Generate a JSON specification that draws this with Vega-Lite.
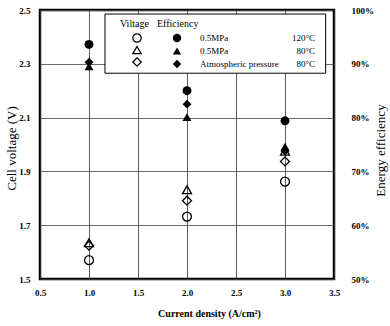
{
  "$schema": "https://vega.github.io/schema/vega-lite/v6.json",
  "width": 294,
  "height": 269,
  "autosize": "none",
  "padding": {"left": 40, "top": 10, "right": 56, "bottom": 47},
  "config": {
    "view": {"stroke": "black", "strokeWidth": 2.5},
    "font": "Liberation Serif",
    "axis": {
      "domain": false,
      "ticks": false,
      "labelFont": "Liberation Serif",
      "labelFontSize": 9,
      "labelFontWeight": "bold",
      "labelColor": "black",
      "labelFlush": false,
      "labelOverlap": false,
      "titleFont": "Liberation Serif",
      "titleColor": "black",
      "gridColor": "#444444",
      "gridWidth": 0.8
    },
    "legend": {
      "labelFont": "Liberation Serif",
      "labelColor": "black",
      "labelFontSize": 9,
      "titleFont": "Liberation Serif",
      "titleColor": "black",
      "titleFontSize": 10,
      "titleFontWeight": "normal",
      "padding": 0
    }
  },
  "data": {
    "values": [
      {"j": 1, "cond": "a", "voltage": 1.57, "eff": 93.6},
      {"j": 2, "cond": "a", "voltage": 1.732, "eff": 85.0},
      {"j": 3, "cond": "a", "voltage": 1.862, "eff": 79.4},
      {"j": 1, "cond": "b", "voltage": 1.635, "eff": 89.5},
      {"j": 2, "cond": "b", "voltage": 1.832, "eff": 80.1},
      {"j": 3, "cond": "b", "voltage": 1.975, "eff": 74.6},
      {"j": 1, "cond": "c", "voltage": 1.624, "eff": 90.3},
      {"j": 2, "cond": "c", "voltage": 1.791, "eff": 82.5},
      {"j": 3, "cond": "c", "voltage": 1.937, "eff": 73.8}
    ]
  },
  "layer": [
    {
      "data": {"values": [{}]},
      "mark": {"type": "rect", "fill": "white", "stroke": "black", "strokeWidth": 1},
      "encoding": {
        "x": {"datum": 1.163, "type": "quantitative", "scale": {"domain": [0.5, 3.5], "nice": false, "zero": false},
          "axis": {"values": [0.5, 1, 1.5, 2, 2.5, 3, 3.5], "format": ".1f", "grid": true, "gridColor": "#333333", "labelPadding": 9,
            "title": "Current density (A/cm²)", "titleFontSize": 10, "titleFontWeight": "bold", "titleX": 169, "titleY": 34, "titleBaseline": "middle"}},
        "x2": {"datum": 3.415},
        "y": {"datum": 2.485, "type": "quantitative", "scale": {"domain": [1.5, 2.5], "nice": false, "zero": false}, "axis": null},
        "y2": {"datum": 2.265}
      }
    },
    {
      "mark": {"type": "point", "filled": false, "stroke": "black", "strokeWidth": 1.3, "size": 80, "opacity": 1},
      "encoding": {
        "x": {"field": "j", "type": "quantitative"},
        "y": {"field": "voltage", "type": "quantitative", "scale": {"domain": [1.5, 2.5], "nice": false, "zero": false},
          "axis": {"orient": "left", "values": [1.5, 1.7, 1.9, 2.1, 2.3, 2.5], "format": ".1f", "grid": true, "labelPadding": 10,
            "title": "Cell voltage (V)", "titleFontSize": 13, "titleFontWeight": "normal", "titleAngle": 270, "titleX": -29, "titleY": 138, "titleBaseline": "middle"}},
        "shape": {"field": "cond", "type": "nominal", "scale": {"domain": ["a", "b", "c"], "range": ["circle", "triangle-up", "diamond"]},
          "legend": {"orient": "none", "legendX": 80, "legendY": 9, "title": "Viltage", "titlePadding": 4, "labelExpr": "''",
            "symbolSize": 70, "symbolStrokeColor": "black", "symbolFillColor": "transparent", "symbolStrokeWidth": 1.2, "symbolOffset": 12, "rowPadding": -2}}
      }
    },
    {
      "mark": {"type": "point", "filled": true, "fill": "black", "size": 80, "opacity": 1},
      "encoding": {
        "x": {"field": "j", "type": "quantitative"},
        "y": {"field": "eff", "type": "quantitative", "scale": {"domain": [50, 100], "nice": false, "zero": false},
          "axis": {"orient": "right", "values": [50, 60, 70, 80, 90, 100], "labelExpr": "datum.value + '%'", "grid": false, "labelPadding": 17,
            "title": "Energy efficiency", "titleFontSize": 13, "titleFontWeight": "normal", "titleAngle": 270, "titleX": 46, "titleY": 140, "titleBaseline": "middle"}},
        "shape": {"field": "cond", "type": "nominal", "scale": {"domain": ["a", "b", "c"], "range": ["circle", "triangle-up", "diamond"]},
          "legend": {"orient": "none", "legendX": 117, "legendY": 9, "title": "Efficiency", "titlePadding": 4,
            "labelExpr": "datum.value == 'a' ? '0.5MPa' : datum.value == 'b' ? '0.5MPa' : 'Atmospheric pressure'",
            "symbolSize": 70, "symbolFillColor": "black", "symbolStrokeColor": "black", "symbolOffset": 15, "labelOffset": 18, "rowPadding": -2}}
      }
    },
    {
      "mark": {"type": "point", "opacity": 0},
      "encoding": {
        "x": {"field": "j", "type": "quantitative"},
        "y": {"field": "eff", "type": "quantitative", "scale": {"domain": [50, 100], "nice": false, "zero": false}, "axis": null},
        "shape": {"field": "cond", "type": "nominal", "scale": {"domain": ["a", "b", "c"], "range": ["circle", "triangle-up", "diamond"]},
          "legend": {"orient": "none", "legendX": 265, "legendY": 23, "title": null,
            "labelExpr": "datum.value == 'a' ? '120°C' : '80°C'", "labelAlign": "right",
            "symbolSize": 70, "symbolOpacity": 0, "symbolOffset": 0, "labelOffset": 0, "rowPadding": 3}}
      }
    }
  ],
  "resolve": {"scale": {"y": "independent", "shape": "independent"}, "legend": {"shape": "independent"}}
}
